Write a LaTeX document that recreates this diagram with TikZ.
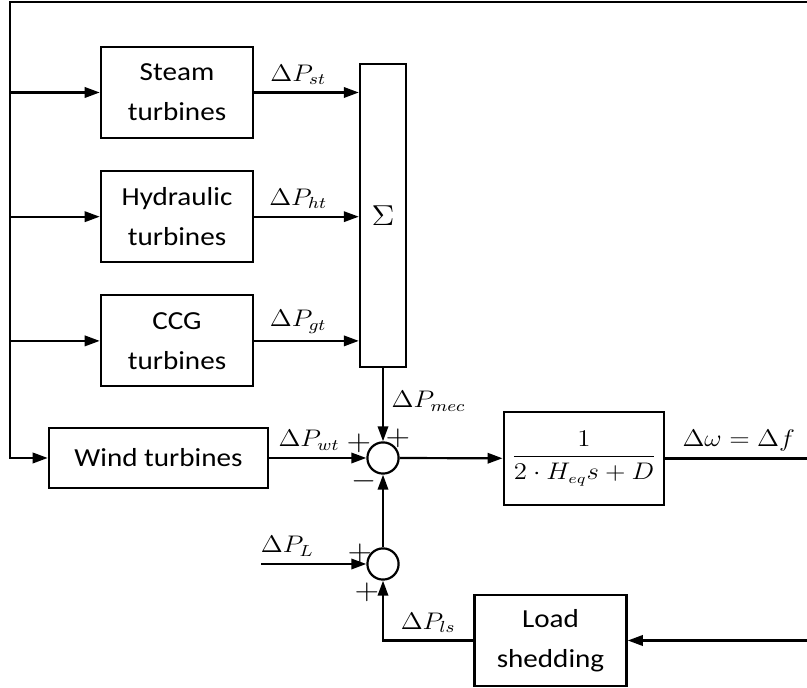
\documentclass[tikz,border=0pt]{standalone}
\usepackage{amsmath}
\usepackage{fontspec}
\setmainfont{Carlito}
\DeclareMathSizes{12}{12}{7.5}{6}
\DeclareMathSizes{12.5}{12.5}{7.8}{6}
\DeclareMathSizes{14}{14}{9}{7}
\usetikzlibrary{shapes,arrows.meta,positioning}
\tikzstyle{wide} = [xscale=1.12]
\tikzstyle{block} = [rectangle, draw=black, line width=1.1pt, wide, minimum width=67.9pt, minimum height=45.5pt, text centered, align=center, font=\fontsize{13}{20}\selectfont]
\tikzstyle{sumnode} = [circle, draw=black, line width=1.1pt, minimum size=15.6pt, inner sep=0pt]
\tikzstyle{arrow} = [line width=1.1pt,->,>={Triangle[length=7.5pt,width=5.2pt]}]
\tikzstyle{lbl} = [wide, font=\fontsize{12.5}{15}\selectfont]
\tikzstyle{sgn} = [wide, inner sep=0pt, font=\fontsize{14}{15}\selectfont]

\begin{document}
\begin{tikzpicture}[x=0.5pt,y=0.5pt,font=\fontsize{12}{15}\selectfont]
	\useasboundingbox (0,0) rectangle (807,688);
	% turbine blocks
	\node[block] (steam) at (177,595.5) {Steam\\turbines};
	\node[block, below=15.5pt of steam] (hydro) {Hydraulic\\turbines};
	\node[block, below=15.5pt of hydro] (ccg) {CCG\\turbines};
	\node[draw, line width=1.1pt, wide, minimum width=20.5pt, minimum height=151.5pt, font=\fontsize{14}{15}\selectfont] (sigma) at (383,472.5) {$\Sigma$};
	\node[block, minimum width=97.8pt, minimum height=30pt] (wind) at (158.5,230) {Wind turbines};
	
	% swing equation
	\node[sumnode] (sum1) at (383,230) {};
	\node[draw, line width=1.1pt, wide, minimum width=71.4pt, minimum height=46.5pt] (swing) at (584,229.5) {$\dfrac{1}{2\cdot H_{eq}s+D}$};
	\node[sumnode] (sum2) at (383,124) {};
	\node[block] (shed) at (550.5,47.5) {Load\\shedding};
	
	\coordinate (fbtop) at (812,686);
	\coordinate (fbleft) at (10,686);
	\coordinate (fbout) at (812,229.5);
	\coordinate (fbshed) at (812,47.5);
	\coordinate (dpl) at (261,124);
	
	\draw[arrow] (fbtop) -- (fbleft) |- (wind);
	\draw[arrow] (fbleft |- steam) -- (steam);
	\draw[arrow] (fbleft |- hydro) -- (hydro);
	\draw[arrow] (fbleft |- ccg) -- (ccg);
	\draw[arrow] (steam) -- node[lbl, above, pos=0.42] {$\Delta P_{st}$} (steam -| sigma.west);
	\draw[arrow] (hydro) -- node[lbl, above, pos=0.42] {$\Delta P_{ht}$} (hydro -| sigma.west);
	\draw[arrow] (ccg) -- node[lbl, above, pos=0.42] {$\Delta P_{gt}$} (ccg -| sigma.west);
	\draw[arrow] (sigma) -- node[lbl, right, pos=0.45] {$\Delta P_{mec}$} (sum1);
	\draw[arrow] (wind) -- node[lbl, above, pos=0.41] {$\Delta P_{wt}$} (sum1);
	\draw[arrow] (sum1) -- (swing);
	\draw[line width=1.1pt] (swing) -- node[lbl, above] {$\Delta\omega=\Delta f$} (fbout);
	\draw[arrow] (sum2) -- (sum1);
	\draw[arrow] (dpl) -- node[lbl, above, pos=0.25] {$\Delta P_{L}$} (sum2);
	\draw[arrow] (fbshed) -- (shed);
	\draw[arrow] (shed.west) -| node[lbl, above, pos=0.25] {$\Delta P_{ls}$} (sum2);
	
	% signs
	\node[sgn] at ([shift={(-24,15)}]sum1) {$+$};
	\node[sgn] at ([shift={(15,20)}]sum1) {$+$};
	\node[sgn] at ([shift={(-19,-23)}]sum1) {$-$};
	\node[sgn] at ([shift={(-23,11)}]sum2) {$+$};
	\node[sgn] at ([shift={(-16,-28)}]sum2) {$+$};
\end{tikzpicture}
\end{document}
